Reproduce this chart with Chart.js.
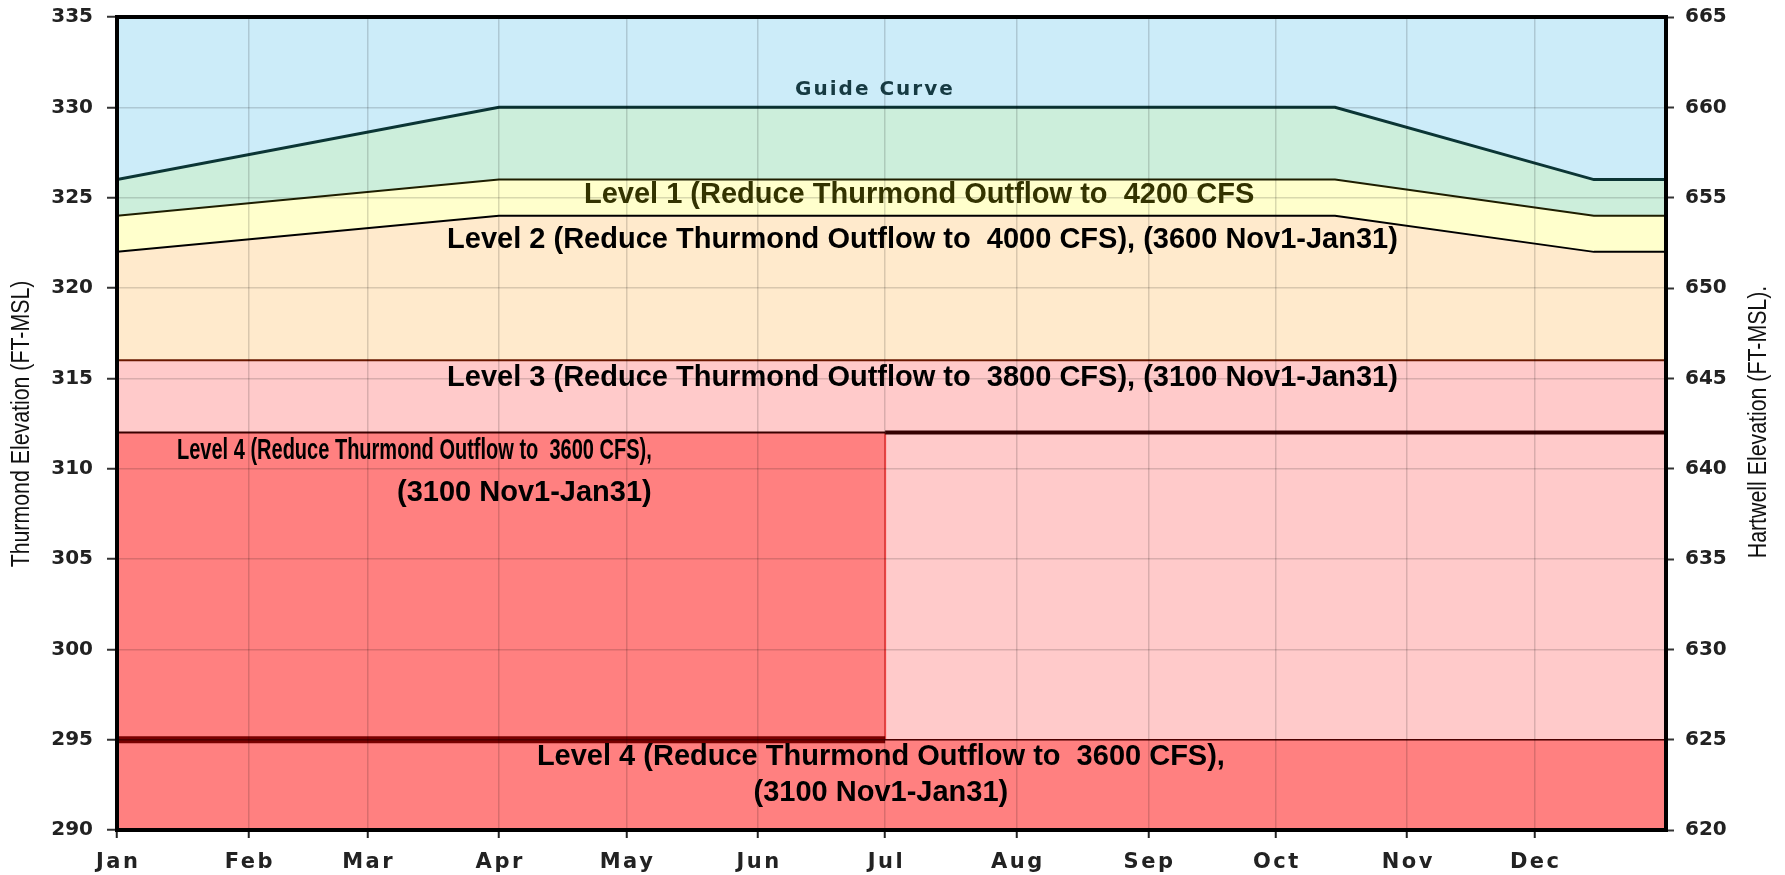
<!DOCTYPE html>
<html>
<head>
<meta charset="utf-8">
<script src="https://cdn.jsdelivr.net/npm/chart.js@4.4.1/dist/chart.umd.min.js"></script>
<style>
html,body{margin:0;padding:0;background:#fff;overflow:hidden}
#wrap{width:1785px;height:875px;position:relative}
</style>
</head>
<body>
<div id="wrap"><canvas id="c" width="1785" height="875"></canvas></div>
<script>
// ---------- DATA ----------
const monthLabels = ['Jan','Feb','Mar','Apr','May','Jun','Jul','Aug','Sep','Oct','Nov','Dec'];
const monthStartDays = [0,31,59,90,120,151,181,212,243,273,304,334];
const yearDays = 365;
const thurmondTicks = [290,295,300,305,310,315,320,325,330,335];
const hartwellOffset = 330; // Hartwell elevation = Thurmond elevation + 330

const curveDays   = [0, 90, 287, 348, 365];   // Jan 1, Apr 1, Oct 15, Dec 15, Dec 31
const guideCurve  = [326, 330, 330, 326, 326];
const level1Curve = [324, 326, 326, 324, 324];
const level2Curve = [322, 324, 324, 322, 322];

const fullYearDays   = [0, 365];
const firstHalfDays  = [0, 181];   // Jan 1 - Jul 1
const secondHalfDays = [181, 365]; // Jul 1 - Dec 31
const level3Line      = [316, 316];
const level4UpperLine = [312, 312];
const level4LowerLine = [295, 295];
const julyEdgeDays    = [181, 181];
const julyEdgeValues  = [312, 295];

const axisTitles = ['Thurmond Elevation (FT-MSL)', 'Hartwell Elevation (FT-MSL).'];
const zoneLabels = [
  'Guide Curve',
  'Level 1 (Reduce Thurmond Outflow to  4200 CFS',
  'Level 2 (Reduce Thurmond Outflow to  4000 CFS), (3600 Nov1-Jan31)',
  'Level 3 (Reduce Thurmond Outflow to  3800 CFS), (3100 Nov1-Jan31)',
  'Level 4 (Reduce Thurmond Outflow to  3600 CFS),',
  '(3100 Nov1-Jan31)',
  'Level 4 (Reduce Thurmond Outflow to  3600 CFS),',
  '(3100 Nov1-Jan31)'
];
const zoneLabelDays  = [178.6, 189, 189.8, 189.8, 126, 126, 180, 180];
const zoneLabelElevs = [330.96, 325.15, 322.66, 315.0, 311.0, 308.66, 294.05, 292.06];

// ---------- helpers ----------
const pts = (xs, ys) => xs.map((x, i) => ({x: x, y: ys[i]}));
const NONE = 'rgba(0,0,0,0)';

const labelStyles = [
  {font:'bold 20px "DejaVu Sans"', color:'#163a42', align:'center', squeeze:1, spacing:'2px'},
  {font:'bold 29px "Liberation Sans"', color:'#333300', align:'center', squeeze:1},
  {font:'bold 29px "Liberation Sans"', color:'#000000', align:'center', squeeze:1},
  {font:'bold 29px "Liberation Sans"', color:'#000000', align:'center', squeeze:1},
  {font:'bold 29px "Liberation Sans"', color:'#000000', align:'right', squeeze:0.69},
  {font:'bold 29px "Liberation Sans"', color:'#000000', align:'right', squeeze:1},
  {font:'bold 29px "Liberation Sans"', color:'#000000', align:'center', squeeze:1},
  {font:'bold 29px "Liberation Sans"', color:'#000000', align:'center', squeeze:1}
];

const framePlugin = {
  id: 'frameAndText',
  afterDraw(chart) {
    const {ctx, chartArea: a, scales} = chart;
    ctx.save();
    // plot frame
    ctx.strokeStyle = '#000';
    ctx.lineWidth = 4;
    ctx.strokeRect(a.left, a.top, a.right - a.left, a.bottom - a.top);
    // month labels (spaced bold)
    ctx.font = 'bold 21px "DejaVu Sans"';
    ctx.fillStyle = '#222';
    ctx.textAlign = 'center';
    ctx.textBaseline = 'alphabetic';
    ctx.letterSpacing = '2.5px';
    monthStartDays.forEach((d, i) => {
      ctx.fillText(monthLabels[i], scales.x.getPixelForValue(d) + 1.25, a.bottom + 38);
    });
    ctx.letterSpacing = '0px';
    // zone labels
    ctx.textBaseline = 'middle';
    zoneLabels.forEach((t, i) => {
      const st = labelStyles[i];
      const x = scales.x.getPixelForValue(zoneLabelDays[i]);
      const y = scales.y.getPixelForValue(zoneLabelElevs[i]);
      ctx.save();
      ctx.font = st.font;
      ctx.fillStyle = st.color;
      ctx.letterSpacing = st.spacing || '0px';
      ctx.textAlign = st.align;
      ctx.translate(x, y);
      ctx.scale(st.squeeze, 1);
      ctx.fillText(t, 0, 0);
      ctx.restore();
    });
    // axis titles (narrow)
    const drawTitle = (t, x, y) => {
      ctx.save();
      ctx.font = '26px "Liberation Sans"';
      ctx.fillStyle = '#111';
      ctx.textAlign = 'center';
      ctx.textBaseline = 'middle';
      ctx.translate(x, y);
      ctx.rotate(-Math.PI / 2);
      ctx.scale(0.82, 1);
      ctx.fillText(t, 0, 0);
      ctx.restore();
    };
    drawTitle(axisTitles[0], 22, 424);
    drawTitle(axisTitles[1], 1759, 422);
    ctx.restore();
  }
};

const tickFont = {family: 'DejaVu Sans', weight: 'bold', size: 20};
const gridColor = 'rgba(0,0,0,0.15)';

new Chart(document.getElementById('c'), {
  type: 'line',
  data: {
    datasets: [
      {label:'Guide Curve', data: pts(curveDays, guideCurve), borderColor:'#0b3535', borderWidth:3,
       fill:{value:335}, backgroundColor:'#CCECF9'},
      {label:'Level 1', data: pts(curveDays, level1Curve), borderColor:'#1e1e00', borderWidth:2,
       fill:0, backgroundColor:'#CCEEDB'},
      {label:'Level 2', data: pts(curveDays, level2Curve), borderColor:'#000', borderWidth:2,
       fill:1, backgroundColor:'#FFFFCC'},
      {label:'Level 3', data: pts(fullYearDays, level3Line), borderColor:'#6a1800', borderWidth:2,
       fill:2, backgroundColor:'#FFEACC'},
      {label:'Level 4 Jan-Jun', data: pts(firstHalfDays, level4UpperLine), borderColor:'#3a0000', borderWidth:2,
       fill:{value:295}, backgroundColor:'#FF8080'},
      {label:'Level 4 zone', data: pts(fullYearDays, level4LowerLine), borderColor:NONE, borderWidth:1,
       fill:3, backgroundColor:'#FFCACA'},
      {label:'Level 4 lower', data: pts(fullYearDays, level4LowerLine), borderColor:'#5a0000', borderWidth:1.5,
       fill:'start', backgroundColor:'#FF8080'},
      {label:'Level 4 upper Jul-Dec', data: pts(secondHalfDays, level4UpperLine), borderColor:'#330000', borderWidth:4,
       fill:false},
      {label:'Level 4 lower Jan-Jun', data: pts(firstHalfDays, level4LowerLine), borderColor:'#780000', borderWidth:7,
       fill:false},
      {label:'Jul edge', data: pts(julyEdgeDays, julyEdgeValues), borderColor:'#FF4848', borderWidth:2,
       fill:false}
    ]
  },
  options: {
    responsive: false,
    animation: false,
    devicePixelRatio: 1,
    layout: {padding: {top: 17, left: 0, right: 0, bottom: 0}},
    elements: {point: {radius: 0, hoverRadius: 0}, line: {tension: 0, borderCapStyle: 'butt'}},
    plugins: {
      legend: {display: false},
      tooltip: {enabled: false},
      filler: {drawTime: 'beforeDatasetsDraw', propagate: false}
    },
    scales: {
      x: {
        type: 'linear', min: 0, max: yearDays,
        afterBuildTicks: s => { s.ticks = monthStartDays.map(v => ({value: v})); },
        ticks: {display: false},
        grid: {color: gridColor, lineWidth: 1.5, tickLength: 8, tickColor: '#222', tickWidth: 2, z: 1},
        border: {display: false},
        afterFit: s => { s.height = 45; s.paddingLeft = 0; s.paddingRight = 0; }
      },
      y: {
        position: 'left', min: thurmondTicks[0], max: thurmondTicks[thurmondTicks.length - 1],
        afterBuildTicks: s => { s.ticks = thurmondTicks.map(v => ({value: v})); },
        ticks: {font: tickFont, color: '#222', padding: 14},
        grid: {color: gridColor, lineWidth: 1.5, tickLength: 10, tickColor: '#333', tickWidth: 2, z: 1},
        border: {display: false},
        afterFit: s => { s.width = 117; s.paddingTop = 0; s.paddingBottom = 0; }
      },
      y2: {
        position: 'right', min: thurmondTicks[0] + hartwellOffset, max: thurmondTicks[thurmondTicks.length - 1] + hartwellOffset,
        afterBuildTicks: s => { s.ticks = thurmondTicks.map(v => ({value: v + hartwellOffset})); },
        ticks: {font: tickFont, color: '#222', padding: 11},
        grid: {drawOnChartArea: false, tickLength: 8, tickColor: '#333', tickWidth: 2},
        border: {display: false},
        afterFit: s => { s.width = 119; s.paddingTop = 0; s.paddingBottom = 0; }
      }
    }
  },
  plugins: [framePlugin]
});
</script>
</body>
</html>
